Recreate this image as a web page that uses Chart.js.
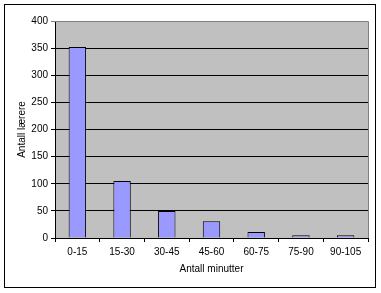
<!DOCTYPE html>
<html>
<head>
<meta charset="utf-8">
<script src="https://cdn.jsdelivr.net/npm/chart.js@4"></script>
<style>
  html, body { margin: 0; padding: 0; background: #fff; }
  #wrap { width: 381px; height: 293px; }
</style>
</head>
<body>
<div id="wrap"><canvas id="minChart" width="381" height="293"></canvas></div>
<script>
const categories = ['0-15', '15-30', '30-45', '45-60', '60-75', '75-90', '90-105'];
const antallLaerere = [352, 105, 50, 31, 11, 5, 5];
const yTicks = [0, 50, 100, 150, 200, 250, 300, 350, 400];

// grey plot area + outer frame, like the old Excel chart
const frame = {
    id: 'frame',
    beforeDraw(chart) {
        const { ctx, chartArea: a } = chart;
        ctx.save();
        ctx.fillStyle = '#c0c0c0';
        ctx.fillRect(a.left, a.top, a.right - a.left, a.bottom - a.top);
        ctx.restore();
    },
    afterDraw(chart) {
        const { ctx, chartArea: a } = chart;
        ctx.save();
        ctx.strokeStyle = '#808080';
        ctx.lineWidth = 1;
        ctx.beginPath();
        ctx.moveTo(a.left, a.top + 0.5);
        ctx.lineTo(a.right + 0.5, a.top + 0.5);
        ctx.lineTo(a.right + 0.5, a.bottom);
        ctx.stroke();
        ctx.strokeStyle = '#000';
        ctx.strokeRect(4.5, 4.5, 371, 283);
        ctx.restore();
    }
};

const ctx = document.getElementById('minChart').getContext('2d');
const chart = new Chart(ctx, {
    type: 'bar',
    data: {
        labels: categories,
        datasets: [{
            label: 'Antall lærere',
            data: antallLaerere,
            backgroundColor: '#9999ff',
            borderColor: '#000',
            borderWidth: 1,
            barPercentage: 0.39,
            categoryPercentage: 1
        }]
    },
    options: {
        responsive: false,
        animation: false,
        layout: { padding: { left: 15, top: 21, right: 13, bottom: 18 } },
        plugins: {
            legend: { display: false },
            tooltip: { enabled: false }
        },
        scales: {
            x: {
                offset: true,
                grid: { offset: true, drawOnChartArea: false, drawTicks: true, tickLength: 4, color: '#000' },
                border: { color: '#000', width: 1 },
                ticks: { color: '#000', font: { family: 'Liberation Sans', size: 10 }, padding: 4, maxRotation: 0 },
                title: { display: true, text: 'Antall minutter', color: '#000', font: { family: 'Liberation Sans', size: 10 }, padding: 0 },
                afterFit(s) { s.height = 37; }
            },
            y: {
                min: 0,
                max: 400,
                afterBuildTicks(s) { s.ticks = yTicks.map(v => ({ value: v })); },
                grid: {
                    color: c => (c.tick && c.tick.value === 400) ? '#808080' : '#000',
                    tickLength: 4
                },
                border: { color: '#000', width: 1 },
                ticks: { color: '#000', font: { family: 'Liberation Sans', size: 10 }, padding: 3 },
                title: { display: true, text: 'Antall lærere', color: '#000', font: { family: 'Liberation Sans', size: 10 }, padding: 1 },
                afterFit(s) { s.width = 40; }
            }
        }
    },
    plugins: [frame]
});
</script>
</body>
</html>
